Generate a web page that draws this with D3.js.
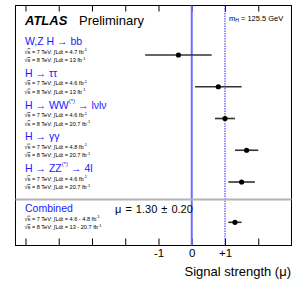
<!DOCTYPE html>
<html>
<head>
<meta charset="utf-8">
<script src="https://cdn.jsdelivr.net/npm/d3@7"></script>
<style>
body { margin: 0; background: white; }
text { font-family: "Liberation Sans", Arial, sans-serif; }
</style>
</head>
<body>
<div id="chart"></div>
<script>
const width = 307
const height = 292
const frame = { left: 15.5, right: 291.5, top: 5.5, bottom: 245.5 }

// channels, "^" marks a superscript part
const channels = ["W,Z H → bb", "H → ττ", "H → WW^(*)^ → lνlν", "H → γγ", "H → ZZ^(*)^ → 4l", "Combined"]
const mu = [-0.4, 0.8, 1.0, 1.65, 1.5, 1.3]
const muErr = [1.0, 0.7, 0.3, 0.35, 0.4, 0.2]
const lumi7 = ["4.7", "4.6", "4.6", "4.8", "4.6", "4.6 - 4.8"]
const lumi8 = ["13", "13", "20.7", "20.7", "20.7", "13 - 20.7"]
const tickValues = [-5, -4, -3, -2, -1, 0, 1, 2]
const tickLabels = [-1, 0, 1]
const combinedText = "μ = 1.30 ± 0.20"

const svg = d3.select("#chart").append("svg").attr("width", width).attr("height", height)

const x = d3.scaleLinear().domain([-5.3, 3]).range([frame.left, frame.right])
const y = d3.scaleLinear().domain([0, 4]).range([55, 182])
const rowY = i => i < 5 ? y(i) : y(4) + 40.3

// axes
const xBottom = svg.append("g").attr("transform", `translate(0, ${frame.bottom})`)
    .call(d3.axisBottom(x).tickValues(tickValues).tickSize(-7).tickFormat(""))
const xTop = svg.append("g").attr("transform", `translate(0, ${frame.top})`)
    .call(d3.axisTop(x).tickValues(tickValues).tickSize(-6).tickFormat(""))
svg.selectAll(".domain").remove()
svg.selectAll(".tick line").attr("stroke", "#000")

svg.append("g").attr("transform", `translate(0, ${frame.bottom})`)
    .call(d3.axisBottom(x).tickValues(tickLabels).tickSize(0).tickPadding(3)
        .tickFormat(d => d > 0 ? "+" + d : d < 0 ? "-" + (-d) : "0"))
    .call(g => g.select(".domain").remove())
    .selectAll("text").attr("font-size", 11.5).attr("font-family", "Liberation Sans, Arial").attr("fill", "#000")

svg.append("rect")
    .attr("x", frame.left).attr("y", frame.top)
    .attr("width", frame.right - frame.left).attr("height", frame.bottom - frame.top)
    .attr("fill", "none").attr("stroke", "#000").attr("stroke-width", 1)

// reference lines
svg.append("line")
    .attr("x1", x(0)).attr("x2", x(0)).attr("y1", frame.top).attr("y2", frame.bottom)
    .attr("stroke", "#6f6fff").attr("stroke-width", 2)
svg.append("line")
    .attr("x1", x(1)).attr("x2", x(1)).attr("y1", frame.top).attr("y2", frame.bottom)
    .attr("stroke", "#2b2bff").attr("stroke-width", 1).attr("stroke-dasharray", "1.5,1")

// separator
svg.append("line")
    .attr("x1", frame.left).attr("x2", frame.right).attr("y1", 199.5).attr("y2", 199.5)
    .attr("stroke", "#b4b4b4").attr("stroke-width", 2)

// titles
const atlas = svg.append("text").attr("x", 25).attr("y", 25).attr("font-size", 13)
atlas.append("tspan").attr("font-weight", "bold").attr("font-style", "italic").text("ATLAS")
atlas.append("tspan").attr("x", 79).text("Preliminary")

const mh = svg.append("text").attr("x", 229).attr("y", 20.5).attr("font-size", 7.5)
mh.append("tspan").text("m")
mh.append("tspan").attr("font-size", 5).attr("dy", 1.5).text("H")
mh.append("tspan").attr("dy", -1.5).text(" = 125.5 GeV")

// rows
const rows = svg.selectAll("g.row")
    .data(channels.map((c, i) => ({ c, i, mu: mu[i], err: muErr[i] })))
    .join("g").attr("class", "row")

rows.each(function(d) {
    const g = d3.select(this)
    const yy = rowY(d.i)
    const head = g.append("text").attr("x", 25).attr("y", yy - 10)
        .attr("font-size", 10.5).attr("fill", "#1a1aff")
    d.c.split("^").forEach((part, k) => {
        if (k % 2 === 1) {
            head.append("tspan").attr("font-size", 6).attr("dy", -6).text(part)
        } else {
            head.append("tspan").attr("dy", k > 0 ? 6 : 0).text(part)
        }
    })
    ;[["7", lumi7[d.i], -1.5], ["8", lumi8[d.i], 7]].forEach(l => {
        const t = g.append("text").attr("x", 24.5).attr("y", yy + l[2]).attr("font-size", 5.6)
        t.append("tspan").text("√")
        t.append("tspan").attr("text-decoration", "overline").text("s")
        t.append("tspan").text(` = ${l[0]} TeV: ∫Ldt = ${l[1]} fb`)
        t.append("tspan").attr("font-size", 4).attr("dy", -2.5).text("-1")
    })

    g.append("line")
        .attr("x1", x(d.mu - d.err)).attr("x2", x(d.mu + d.err))
        .attr("y1", yy).attr("y2", yy)
        .attr("stroke", "#333").attr("stroke-width", 1.6)
    g.append("circle")
        .attr("cx", x(d.mu)).attr("cy", yy).attr("r", 2.6).attr("fill", "#000")
})

svg.append("text").attr("x", 115).attr("y", 212.5).attr("font-size", 11)
    .attr("word-spacing", 1).text(combinedText)

svg.append("text").attr("x", 291).attr("y", 276).attr("text-anchor", "end")
    .attr("font-size", 13).text("Signal strength (μ)")
</script>
</body>
</html>
